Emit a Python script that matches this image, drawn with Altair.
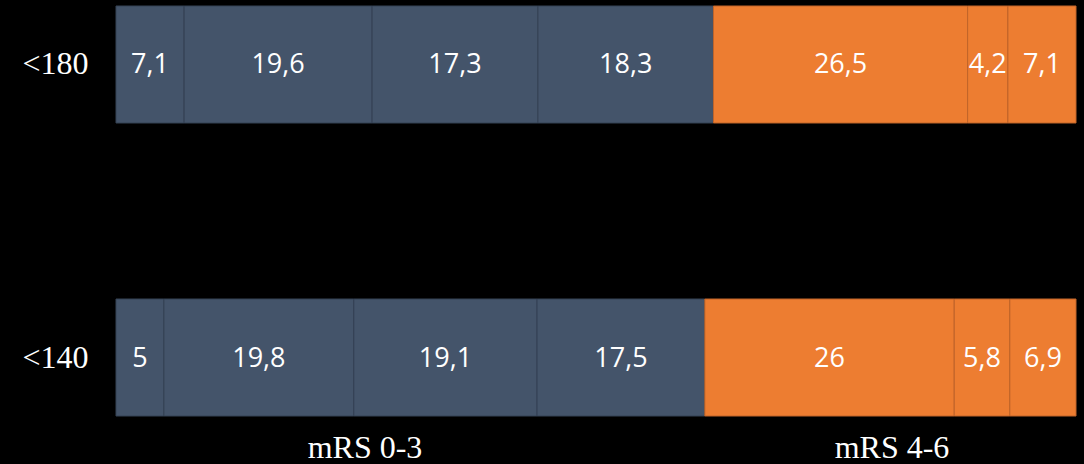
import altair as alt
import pandas as pd

# Rows of the stacked bars, top to bottom
categories = ["<180", "<140"]
# Segment values per row (percent), left to right
values_180 = [7.1, 19.6, 17.3, 18.3, 26.5, 4.2, 7.1]
values_140 = [5, 19.8, 19.1, 17.5, 26, 5.8, 6.9]
# Outcome group of each segment position
segment_groups = ["mRS 0-3"] * 4 + ["mRS 4-6"] * 3
group_labels = ["mRS 0-3", "mRS 4-6"]

rows = []
for cat, vals in zip(categories, [values_180, values_140]):
    for i, (v, g) in enumerate(zip(vals, segment_groups)):
        rows.append({
            "cat": cat,
            "seg": i,
            "value": v,
            "group": g,
            "label": f"{v:g}".replace(".", ","),
        })
df = pd.DataFrame(rows)
total = max(sum(values_180), sum(values_140))

fill_colors = ["#44546A", "#ED7D31"]
edge_colors = ["#354255", "#C0652A"]

base = (
    alt.Chart(df)
    .transform_stack(
        stack="value",
        groupby=["cat"],
        sort=[alt.SortField("seg", order="ascending")],
        as_=["x0", "x1"],
    )
    .transform_calculate(mid="(datum.x0 + datum.x1) / 2")
)

x_scale = alt.Scale(domain=[0, total], nice=False, zero=False)
y_enc = alt.Y(
    "cat:N",
    sort=categories,
    scale=alt.Scale(paddingInner=0.6007, paddingOuter=0),
    axis=alt.Axis(
        title=None,
        domain=False,
        ticks=False,
        labelFont="Liberation Serif",
        labelFontSize=32,
        labelColor="white",
        labelPadding=28,
    ),
)

bars = base.mark_bar(strokeWidth=1).encode(
    x=alt.X("x0:Q", scale=x_scale, axis=None),
    x2="x1:Q",
    y=y_enc,
    color=alt.Color("group:N", scale=alt.Scale(domain=group_labels, range=fill_colors), legend=None),
    stroke=alt.Stroke("group:N", scale=alt.Scale(domain=group_labels, range=edge_colors), legend=None),
)

texts = base.mark_text(
    font="Open Sans", fontSize=27, color="white", baseline="middle", align="center", dy=1
).encode(
    x=alt.X("mid:Q", scale=x_scale, axis=None),
    y=alt.Y("cat:N", sort=categories),
    text="label:N",
)

# Group captions beneath the bars
captions_df = pd.DataFrame({"caption": group_labels, "px": [249, 776]})
captions = alt.Chart(captions_df).mark_text(
    font="Liberation Serif", fontSize=32, color="white", baseline="middle", align="center"
).encode(
    x=alt.X("px:Q", scale=None),
    y=alt.value(442),
    text="caption:N",
)

chart = (
    alt.layer(bars, texts, captions)
    .properties(
        width=960,
        height=410,
        autosize=alt.AutoSizeParams(type="none"),
        padding={"left": 116, "top": 6, "right": 8, "bottom": 48},
        background="black",
    )
    .configure_view(stroke=None)
)

chart.save("out.html", embed_options={"renderer": "svg", "actions": False})
